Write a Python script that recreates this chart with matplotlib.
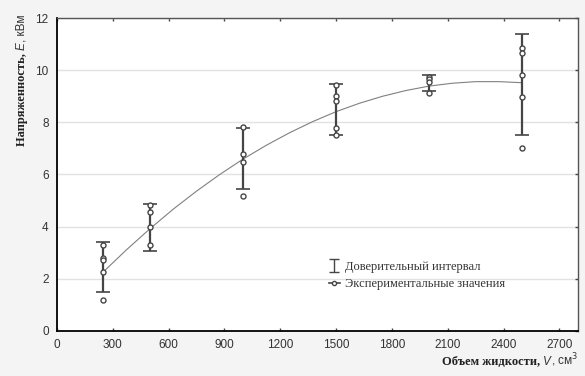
import numpy as np
import matplotlib
matplotlib.use('Agg')
import matplotlib.pyplot as plt
from matplotlib.lines import Line2D

# experimental values, grouped by liquid volume (cm^3)
volumes = [250, 500, 1000, 1500, 2000, 2500]
measured = [
    [3.30, 2.80, 2.70, 2.27, 1.18],
    [4.83, 4.55, 4.00, 3.30],
    [7.81, 6.79, 6.49, 5.16],
    [9.42, 9.01, 8.82, 7.80, 7.52],
    [9.75, 9.66, 9.56, 9.11],
    [10.84, 10.65, 9.82, 8.98, 7.00],
]
# confidence interval bounds
ci_low = [1.50, 3.07, 5.45, 7.50, 9.21, 7.53]
ci_high = [3.42, 4.85, 7.80, 9.46, 9.83, 11.38]

# approximating curve
curve_x = [250, 375, 500, 625, 750, 875, 1000, 1125, 1250, 1375, 1500,
           1625, 1750, 1875, 2000, 2125, 2250, 2375, 2500]
curve_y = [2.27, 3.12, 3.92, 4.67, 5.36, 6.00, 6.59, 7.12, 7.60, 8.03, 8.41,
           8.73, 9.00, 9.22, 9.39, 9.50, 9.56, 9.56, 9.52]

xticks = np.arange(0, 2701, 300)
yticks = np.arange(0, 13, 2)

dark = '#454545'

fig = plt.figure(figsize=(5.85, 3.76), dpi=100, facecolor='#f4f4f4')
ax = fig.add_axes([0.0974, 0.120, 0.8906, 0.832])
ax.set_facecolor('white')

ax.set_xlim(0, 2800)
ax.set_ylim(0, 12)
ax.set_xticks(xticks)
ax.set_yticks(yticks)
ax.grid(axis='y', color='#e2e2e2', lw=1)
ax.set_axisbelow(True)

# fitted curve
ax.plot(curve_x, curve_y, color='#808080', lw=0.8, zorder=2)

# confidence intervals
lo = np.array(ci_low)
hi = np.array(ci_high)
mid = (lo + hi) / 2
ax.errorbar(volumes, mid, yerr=[mid - lo, hi - mid], fmt='none',
            ecolor=dark, elinewidth=1.6, capsize=5, capthick=1.2, zorder=3)

# measured points
for v, vals in zip(volumes, measured):
    ax.plot([v] * len(vals), vals, 'o', ms=3.6, mfc='white', mec=dark,
            mew=1.0, ls='none', zorder=4)

# spines and ticks
for s in ['left', 'bottom']:
    ax.spines[s].set_color('black')
    ax.spines[s].set_linewidth(1.3)
for s in ['top', 'right']:
    ax.spines[s].set_color('#555555')
    ax.spines[s].set_linewidth(1.0)
ax.tick_params(axis='x', direction='in', length=2.5, width=1, top=True,
               colors=dark, labelsize=8.5, pad=6, labelcolor='#333333')
ax.tick_params(axis='y', direction='in', length=2.5, width=1, right=True,
               left=False, colors=dark, labelsize=8.5, pad=6,
               labelcolor='#333333')
for lab in ax.get_xticklabels() + ax.get_yticklabels():
    lab.set_family('Liberation Sans')

# legend handles (dummy bar drawn outside the visible range)
h_ci = ax.errorbar([-1000], [5], yerr=[1], fmt='none', ecolor=dark,
                   elinewidth=1.0, capsize=3.5, capthick=1.0)
h_pts = Line2D([], [], color=dark, lw=1.2, marker='o', ms=3, mfc='white',
               mec=dark)
leg = ax.legend([h_ci, h_pts],
                ['Доверительный интервал', 'Экспериментальные значения'],
                loc='upper left', bbox_to_anchor=(0.50, 0.26), frameon=False,
                handlelength=0.9, handletextpad=0.4, labelspacing=0.45,
                prop={'family': 'Liberation Serif', 'size': 9})
for t in leg.get_texts():
    t.set_color('#333333')


def pieces_text(parts, x, y, rotation=0, ha='right'):
    # draw label built from several styled pieces, anchored at (x, y) in px
    fig.canvas.draw()
    r = fig.canvas.get_renderer()
    objs = [fig.text(0, 0, s, transform=None, rotation=rotation,
                     va='baseline' if rotation == 0 else 'center',
                     ha='left' if rotation == 0 else 'center', **kw)
            for s, kw in parts]
    sizes = []
    for o in objs:
        bb = o.get_window_extent(r)
        sizes.append(bb.width if rotation == 0 else bb.height)
    total = sum(sizes)
    pos = x - total if ha == 'right' else y - total
    for o, sz in zip(objs, sizes):
        if rotation == 0:
            o.set_position((pos, y))
        else:
            o.set_position((x, pos + sz / 2))
            o.set_va('center')
        pos += sz


H = 376
serif_b = dict(family='Liberation Serif', weight='bold', size=9, color='#222222')
sans_i = dict(family='Liberation Sans', style='italic', size=8.5, color='#333333')
sans = dict(family='Liberation Sans', size=8.5, color='#333333')

pieces_text([('Объем жидкости, ', serif_b), ('V', sans_i), (', см$^3$', sans)],
            578, H - 365)
pieces_text([('Напряженность, ', serif_b), ('E', sans_i), (', кВм', sans)],
            22, H - 15, rotation=90, ha='top')

fig.savefig('out.png', dpi=100, facecolor=fig.get_facecolor())
